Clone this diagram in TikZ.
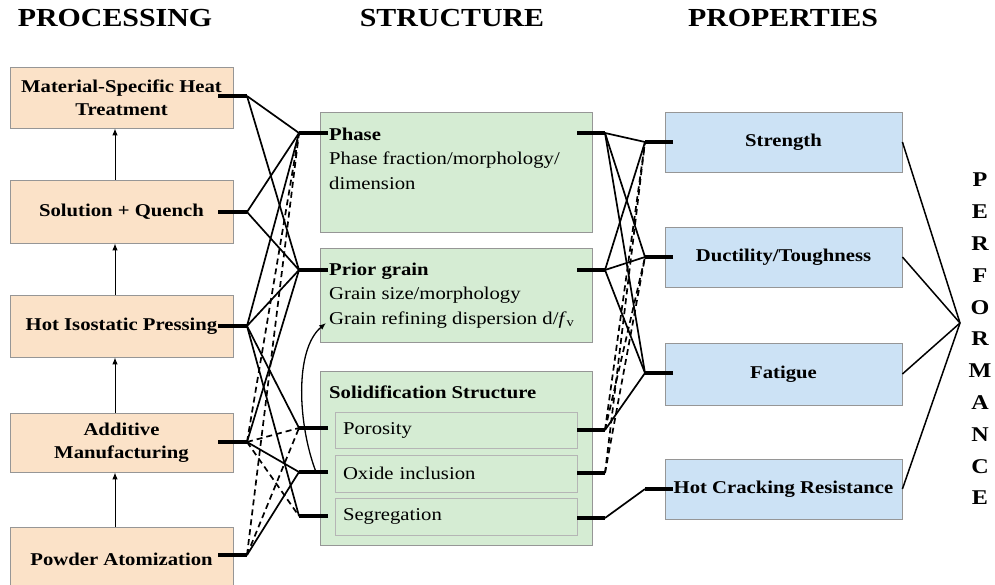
\documentclass[tikz,border=0pt]{standalone}
\usepackage{fontspec}
\setmainfont{Liberation Serif}[FakeStretch=1.15]
\usepackage{tikz}
\usetikzlibrary{arrows.meta}

\definecolor{procfill}{RGB}{251,226,200}
\definecolor{structfill}{RGB}{213,236,211}
\definecolor{propfill}{RGB}{204,226,245}
\definecolor{boxline}{RGB}{150,150,150}

\tikzset{
    proc-box/.style = {draw=boxline, fill=procfill, line width=0.8pt, minimum width=223pt, inner sep=0pt, align=center, font=\fontsize{18}{23}\selectfont\bfseries},
    struct-box/.style = {draw=boxline, fill=structfill, line width=0.8pt, minimum width=272pt, inner sep=0pt},
    struct-text/.style = {anchor=north west, inner sep=0pt, align=left, font=\fontsize{18}{24.5}\selectfont},
    inner-box/.style = {draw=boxline!70, fill=structfill, line width=0.6pt, minimum width=242pt, minimum height=37pt, text width=226pt, inner xsep=8pt, inner ysep=0pt, align=left, font=\fontsize{18}{22}\selectfont},
    prop-box/.style = {draw=boxline, fill=propfill, line width=0.8pt, minimum width=237pt, minimum height=60pt, inner sep=0pt, font=\fontsize{18}{22}\selectfont\bfseries},
    head-text/.style = {font=\fontsize{26}{30}\selectfont\bfseries},
    perf-text/.style = {inner sep=0pt, align=center, font=\fontsize{21}{31.8}\selectfont\bfseries},
    stub/.style = {line width=4.5pt},
    link/.style = {line width=1.7pt},
    dash-link/.style = {line width=1.7pt, dash pattern=on 6pt off 4pt},
    flow/.style = {line width=1pt, -{Latex[length=7pt,width=5.5pt]}},
}

\begin{document}
\begin{tikzpicture}[x=1pt, y=-1pt]
\useasboundingbox (0,0) rectangle (995,585);
\clip (0,0) rectangle (995,585);

% headers
\node[head-text] (proc-head) at (115,18) {PROCESSING};
\node[head-text] (struct-head) at (452,18) {STRUCTURE};
\node[head-text] (prop-head) at (783,18) {PROPERTIES};

% processing
\node[proc-box, minimum height=61pt] (heat) at (121.5,97.5) {Material-Specific Heat\\Treatment};
\node[proc-box, minimum height=63pt] (quench) at (121.5,211.5) {Solution + Quench};
\node[proc-box, minimum height=62pt] (hip) at (121.5,326) {Hot Isostatic Pressing};
\node[proc-box, minimum height=59pt] (am) at (121.5,442.5) {Additive\\Manufacturing};
\node[proc-box, minimum height=64pt] (atom) at (121.5,559) {Powder Atomization};
\draw[flow] ([xshift=-6.5pt]quench.north) -- ([xshift=-6.5pt]heat.south);
\draw[flow] ([xshift=-6.5pt]hip.north) -- ([xshift=-6.5pt]quench.south);
\draw[flow] ([xshift=-6.5pt]am.north) -- ([xshift=-6.5pt]hip.south);
\draw[flow] ([xshift=-6.5pt]atom.north) -- ([xshift=-6.5pt]am.south);

% structure
\node[struct-box, minimum height=120pt] (phase) at (456,172) {};
\node[struct-text] (phase-text) at (329,127.5) {\textbf{Phase}\\Phase fraction/morphology/\\dimension};
\node[struct-box, minimum height=94pt] (grain) at (456,295) {};
\node[struct-text] (grain-text) at (329,262.5) {\textbf{Prior grain}\\Grain size/morphology\\Grain refining dispersion d/\textit{f}\textsubscript{v}};
\node[struct-box, minimum height=174pt] (solid) at (456,458) {};
\node[struct-text] (solid-text) at (329,385.5) {\textbf{Solidification Structure}};
\node[inner-box, minimum height=36pt] (poro) at (456,430) {Porosity};
\node[inner-box] (oxide) at (456,473.5) {Oxide inclusion};
\node[inner-box] (segr) at (456,516.5) {Segregation};

% properties
\node[prop-box] (strength) at (783.5,142) {Strength};
\node[prop-box] (ductility) at (783.5,257) {Ductility/Toughness};
\node[prop-box, minimum height=62pt] (fatigue) at (783.5,374) {Fatigue};
\node[prop-box] (hotcrack) at (783.5,489) {Hot Cracking Resistance};
\node[perf-text] (perf) at (980,339) {P\\E\\R\\F\\O\\R\\M\\A\\N\\C\\E};
\coordinate (perf-in) at (960,323);

% stubs
\foreach \n/\y in {heat/96, quench/212, hip/326, am/442, atom/555}
    \draw[stub] (218,\y) -- (247,\y) coordinate (\n-r);
\foreach \n/\y in {phase/133, grain/270, poro/428, oxide/472, segr/516}
    \draw[stub] (328,\y) -- (299,\y) coordinate (\n-l);
\foreach \n/\y in {phase/133, grain/270, poro/430, oxide/473, segr/518}
    \draw[stub] (577,\y) -- (605,\y) coordinate (\n-r);
\foreach \n/\y in {strength/142, ductility/257, fatigue/373, hotcrack/489}
    \draw[stub] (673,\y) -- (645,\y) coordinate (\n-l);

% processing -> structure
\foreach \a/\b in {heat/phase, heat/grain, quench/phase, quench/grain, hip/phase, hip/grain, hip/poro, hip/segr, am/grain, am/oxide, atom/oxide}
    \draw[link] (\a-r) -- (\b-l);
\foreach \a/\b in {am/phase, am/poro, am/segr, atom/phase, atom/poro}
    \draw[dash-link] (\a-r) -- (\b-l);

% structure -> properties
\foreach \a/\b in {phase/strength, phase/ductility, phase/fatigue, grain/strength, grain/ductility, grain/fatigue, poro/fatigue, segr/hotcrack}
    \draw[link] (\a-r) -- (\b-l);
\foreach \a/\b in {poro/strength, poro/ductility, oxide/strength, oxide/ductility}
    \draw[dash-link] (\a-r) -- (\b-l);

% properties -> performance
\foreach \n in {strength, ductility, fatigue, hotcrack}
    \draw[link, line width=1.5pt] (\n.east) -- (perf-in);

% oxide inclusion refines prior grain
\coordinate (refine-tip) at (326,323);
\draw[flow, line width=1.3pt] ([xshift=17pt]oxide-l) .. controls (298,425) and (294,350) .. (refine-tip);
\end{tikzpicture}
\end{document}
